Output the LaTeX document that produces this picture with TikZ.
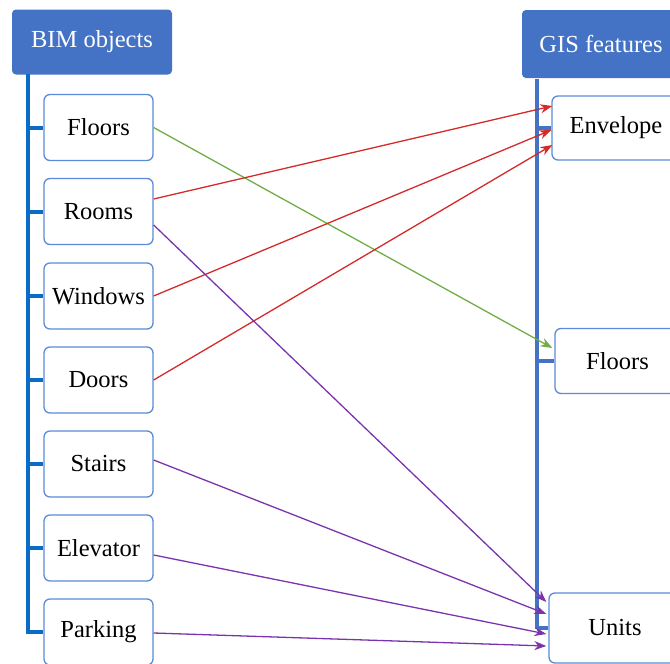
\documentclass[tikz,border=0pt]{standalone}
\usepackage{fontspec}
\setmainfont{Liberation Serif}
\usetikzlibrary{arrows.meta}
\definecolor{hdrblue}{HTML}{4472C4}
\definecolor{barleft}{HTML}{0A6CC4}
\definecolor{barright}{HTML}{4472C4}
\definecolor{boxline}{HTML}{5B8BD8}
\definecolor{cgreen}{HTML}{70AD47}
\definecolor{cred}{HTML}{D42A2A}
\definecolor{cpurple}{HTML}{7A35AE}
\tikzset{
  hdr/.style={fill=hdrblue, draw=none, rounded corners=4pt, text=white, font=\fontsize{24.5}{27}\selectfont, inner sep=0pt},
  item/.style={draw=boxline, line width=1.3pt, fill=white, rounded corners=6pt, font=\fontsize{24.5}{27}\selectfont, inner sep=0pt},
  lbar/.style={draw=barleft, line width=4pt},
  rbar/.style={draw=barright, line width=4pt},
  conn/.style={line width=1.3pt, -{Stealth[length=12pt,width=9pt]}},
}
\begin{document}
\begin{tikzpicture}[x=1pt,y=-1pt]
\clip (0,0) rectangle (670,664);
\useasboundingbox (0,0) rectangle (670,664);
% headers
\node[hdr, minimum width=160pt, minimum height=65pt] (bim) at (92,42) {BIM objects};
\node[hdr, minimum width=158pt, minimum height=68pt] (gis) at (601,44) {GIS features};
% bars
\coordinate (lbtop) at (28,74);
\coordinate (lbbot) at (28,634);
\coordinate (rbtop) at (537,79);
\coordinate (rbbot) at (537,629);
\draw[lbar] (lbtop) -- (lbbot);
\draw[rbar] (rbtop) -- (rbbot);
% left items
\foreach \n/\t/\y in {bfloors/Floors/127.5, brooms/Rooms/211.5, bwindows/Windows/296, bdoors/Doors/380, bstairs/Stairs/464, belevator/Elevator/548, bparking/Parking/632}{
  \node[item, minimum width=109pt, minimum height=66pt] (\n) at (98.5,\y) {\t};
  \draw[lbar] (28,\y) -- (\n.west);
}
% right items
\node[item, minimum width=128pt, minimum height=64pt] (genv) at (616,128) {Envelope};
\node[item, minimum width=125pt, minimum height=65pt] (gfloors) at (617.5,361) {Floors};
\node[item, minimum width=132pt, minimum height=70pt] (gunits) at (615,628) {Units};
\draw[rbar] (537,128) -- (genv.west);
\draw[rbar] (537,361) -- (gfloors.west);
\draw[rbar] (537,628) -- (gunits.west);
% connectors
\draw[conn, cgreen] (bfloors.east) -- ([xshift=-2pt,yshift=13pt]gfloors.west);
\draw[conn, cred] ([yshift=12.5pt]brooms.east) -- ([xshift=1pt,yshift=22pt]genv.west);
\draw[conn, cred] (bwindows.east) -- ([xshift=0pt,yshift=-2pt]genv.west);
\draw[conn, cred] (bdoors.east) -- ([xshift=1pt,yshift=-17pt]genv.west);
\draw[conn, cpurple] ([yshift=-13.5pt]brooms.east) -- ([xshift=-2pt,yshift=26pt]gunits.west);
\draw[conn, cpurple] ([yshift=4pt]bstairs.east) -- ([xshift=-2pt,yshift=14pt]gunits.west);
\draw[conn, cpurple] ([yshift=-7pt]belevator.east) -- ([xshift=-2pt,yshift=-6pt]gunits.west);
\draw[conn, cpurple] ([yshift=-1pt]bparking.east) -- ([xshift=-2pt,yshift=-18pt]gunits.west);
\end{tikzpicture}
\end{document}
